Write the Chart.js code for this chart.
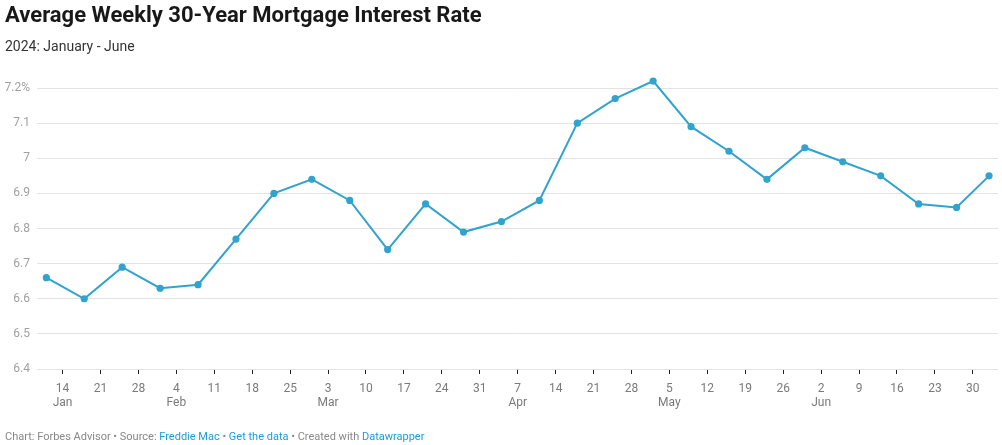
<!DOCTYPE html>
<html>
<head>
<meta charset="utf-8">
<script src="https://cdn.jsdelivr.net/npm/chart.js@4"></script>
<style>
  html, body { margin: 0; padding: 0; background: #fff; }
  body { width: 1002px; height: 445px; position: relative; overflow: hidden; font-family: Roboto, "Noto Sans", sans-serif; }
  #title { position: absolute; left: 5px; top: 4px; font-size: 22px; font-weight: 700; color: #181818; line-height: 1; white-space: nowrap; }
  #subtitle { position: absolute; left: 5px; top: 39px; font-size: 14px; color: #333; line-height: 1; white-space: nowrap; }
  #footer { position: absolute; left: 5px; top: 431px; font-size: 11px; color: #888; line-height: 1; white-space: nowrap; }
  #footer .lnk { color: #1d9bd6; }
  #wrap { position: absolute; left: 0; top: 0; width: 1002px; height: 445px; }
</style>
</head>
<body>
<div id="wrap"><canvas id="c"></canvas></div>
<div id="title">Average Weekly 30-Year Mortgage Interest Rate</div>
<div id="subtitle">2024: January - June</div>
<div id="footer">Chart: Forbes Advisor • Source: <span class="lnk">Freddie Mac</span> • <span class="lnk">Get the data</span> • Created with <span class="lnk">Datawrapper</span></div>
<script>
// ---- data ----
const weekDates = ['2024-01-11','2024-01-18','2024-01-25','2024-02-01','2024-02-08','2024-02-15','2024-02-22','2024-02-29',
  '2024-03-07','2024-03-14','2024-03-21','2024-03-28','2024-04-04','2024-04-11','2024-04-18','2024-04-25',
  '2024-05-02','2024-05-09','2024-05-16','2024-05-23','2024-05-30','2024-06-06','2024-06-13','2024-06-20',
  '2024-06-27','2024-07-03'];
const rates = [6.66, 6.60, 6.69, 6.63, 6.64, 6.77, 6.90, 6.94, 6.88, 6.74, 6.87, 6.79, 6.82, 6.88, 7.10, 7.17,
  7.22, 7.09, 7.02, 6.94, 7.03, 6.99, 6.95, 6.87, 6.86, 6.95];
const tickDates = ['2024-01-14','2024-01-21','2024-01-28','2024-02-04','2024-02-11','2024-02-18','2024-02-25',
  '2024-03-03','2024-03-10','2024-03-17','2024-03-24','2024-03-31','2024-04-07','2024-04-14','2024-04-21','2024-04-28',
  '2024-05-05','2024-05-12','2024-05-19','2024-05-26','2024-06-02','2024-06-09','2024-06-16','2024-06-23','2024-06-30'];
const monthNames = ['Jan','Feb','Mar','Apr','May','Jun','Jul'];
const yTicks = [6.4, 6.5, 6.6, 6.7, 6.8, 6.9, 7.0, 7.1, 7.2];

// ---- helpers ----
const baseDate = Date.UTC(2024, 0, 14);
const dayOf = s => (Date.parse(s + 'T00:00:00Z') - baseDate) / 86400000;
const points = weekDates.map((d, i) => ({ x: dayOf(d), y: rates[i] }));
const tickInfo = {};
let lastMonth = -1;
tickDates.forEach(s => {
  const d = new Date(s + 'T00:00:00Z');
  const m = d.getUTCMonth();
  const lab = String(d.getUTCDate());
  tickInfo[dayOf(s)] = (m !== lastMonth) ? [lab, monthNames[m]] : lab;
  lastMonth = m;
});

const lineColor = '#31a3cd';
new Chart(document.getElementById('c'), {
  type: 'line',
  data: {
    datasets: [{
      data: points,
      borderColor: lineColor,
      backgroundColor: lineColor,
      borderWidth: 2,
      pointRadius: 3.6,
      pointBorderWidth: 0,
      pointBackgroundColor: lineColor,
      tension: 0,
      clip: false
    }]
  },
  options: {
    responsive: true,
    maintainAspectRatio: false,
    animation: false,
    events: [],
    layout: { padding: { top: 70.5, bottom: 31, left: 0, right: 0 } },
    plugins: { legend: { display: false }, tooltip: { enabled: false }, title: { display: false } },
    scales: {
      x: {
        type: 'linear',
        min: -4.724,
        max: 172.65,
        afterBuildTicks: s => { s.ticks = tickDates.map(d => ({ value: dayOf(d) })); },
        afterFit: s => { s.height = 45; },
        grid: { drawOnChartArea: false, drawTicks: true, tickLength: 5, tickColor: '#222', tickWidth: 1 },
        border: { display: false },
        ticks: {
          autoSkip: false,
          maxRotation: 0,
          padding: 8,
          color: '#7a7a7a',
          font: { family: 'Roboto', size: 12, lineHeight: 1.15 },
          callback: v => tickInfo[v] !== undefined ? tickInfo[v] : ''
        }
      },
      y: {
        min: 6.4,
        max: 7.25,
        afterBuildTicks: s => { s.ticks = yTicks.map(v => ({ value: v })); },
        afterFit: s => { s.width = 37; },
        grid: { color: '#e3e3e3', lineWidth: 1, drawTicks: false },
        border: { display: false },
        ticks: {
          padding: 7,
          color: '#a0a0a0',
          font: { family: 'Roboto', size: 12 },
          callback: v => { const t = String(Number(v.toFixed(1))); return v >= 7.19 ? t + '%' : t; }
        }
      }
    }
  }
});
</script>
</body>
</html>
